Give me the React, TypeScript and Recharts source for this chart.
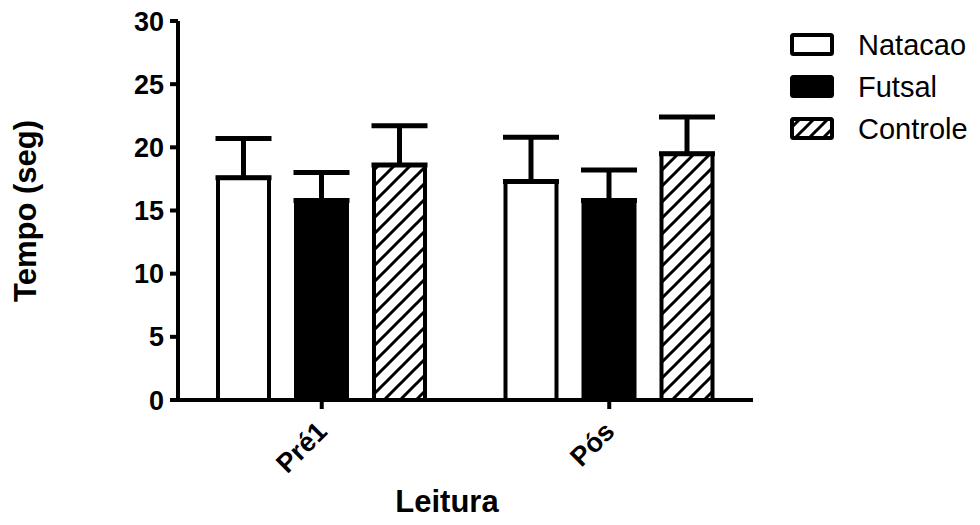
import React from 'react';
import { BarChart, Bar, XAxis, YAxis, ErrorBar } from 'recharts';

const categories = ['Pré1', 'Pós'];
const natacao = [17.6, 17.3];
const natacaoErr = [3.1, 3.5];
const futsal = [15.8, 15.8];
const futsalErr = [2.2, 2.4];
const controle = [18.6, 19.5];
const controleErr = [3.1, 2.9];
const yTicks = [0, 5, 10, 15, 20, 25, 30];
const seriesNames = ['Natacao', 'Futsal', 'Controle'];

const data = categories.map((c, i) => ({
  cat: c,
  nat: natacao[i],
  natErr: [0, natacaoErr[i]],
  fut: futsal[i],
  futErr: [0, futsalErr[i]],
  con: controle[i],
  conErr: [0, controleErr[i]],
}));

const FONT = '"Liberation Sans", Arial, sans-serif';

const XTick = (props: any) => {
  const { x, y, payload } = props;
  const ax = x + 7;
  const ay = y + 22;
  return (
    <text
      x={ax}
      y={ay}
      transform={`rotate(-45, ${ax}, ${ay})`}
      textAnchor="end"
      fontFamily={FONT}
      fontWeight="bold"
      fontSize={27}
      fill="#000"
    >
      {payload.value}
    </text>
  );
};

const LegendIcon = ({ kind }: { kind: number }) => (
  <svg width={48} height={26} style={{ display: 'block' }}>
    <defs>
      <pattern id="hatchLeg" patternUnits="userSpaceOnUse" width="14" height="14">
        <path d="M0,14 L14,0 M-4,4 L4,-4 M10,18 L18,10" stroke="#000" strokeWidth="3" />
      </pattern>
    </defs>
    <rect
      x={3}
      y={3}
      width={40}
      height={19}
      rx={1.5}
      fill={kind === 0 ? '#fff' : kind === 1 ? '#000' : 'url(#hatchLeg)'}
      stroke="#000"
      strokeWidth={4}
    />
  </svg>
);

const LegendBlock = () => (
  <div
    style={{
      position: 'absolute',
      left: 789,
      top: 24,
      fontFamily: FONT,
      fontSize: 29,
      color: '#000',
      lineHeight: 1,
    }}
  >
    {seriesNames.map((n, i) => (
      <div key={n} style={{ display: 'flex', alignItems: 'center', height: 42 }}>
        <LegendIcon kind={i} />
        <span style={{ marginLeft: 21 }}>{n}</span>
      </div>
    ))}
  </div>
);

export default function App() {
  return (
    <div style={{ position: 'fixed', left: 0, top: 0, width: 980, height: 525, background: '#fff' }}>
      <BarChart
        width={980}
        height={525}
        data={data}
        margin={{ top: 21, right: 227, bottom: 0, left: 0 }}
        barSize={51}
        barGap={27}
      >
        <defs>
          <pattern id="hatch" patternUnits="userSpaceOnUse" width="16" height="16">
            <path d="M0,16 L16,0 M-4,4 L4,-4 M12,20 L20,12" stroke="#000" strokeWidth="3" />
          </pattern>
        </defs>
        <XAxis
          dataKey="cat"
          height={125}
          axisLine={{ stroke: '#000', strokeWidth: 4 }}
          tickLine={{ stroke: '#000', strokeWidth: 4 }}
          tickSize={9}
          tick={<XTick />}
          interval={0}
          label={{
            content: () => (
              <text x={447} y={512} textAnchor="middle" fontFamily={FONT} fontWeight="bold" fontSize={31} fill="#000">
                Leitura
              </text>
            ),
          }}
        />
        <YAxis
          width={178}
          domain={[0, 30]}
          ticks={yTicks}
          interval={0}
          axisLine={{ stroke: '#000', strokeWidth: 4 }}
          tickLine={{ stroke: '#000', strokeWidth: 4 }}
          tickSize={8}
          tickMargin={6}
          tick={{ fill: '#000', fontFamily: FONT, fontWeight: 'bold', fontSize: 27 }}
          label={{
            content: () => (
              <text
                x={36}
                y={211}
                transform="rotate(-90, 36, 211)"
                textAnchor="middle"
                fontFamily={FONT}
                fontWeight="bold"
                fontSize={31}
                fill="#000"
              >
                Tempo (seg)
              </text>
            ),
          }}
        />
        <Bar dataKey="nat" name="Natacao" fill="#fff" stroke="#000" strokeWidth={4} isAnimationActive={false}>
          <ErrorBar dataKey="natErr" direction="y" width={28} stroke="#000" strokeWidth={5} isAnimationActive={false} />
        </Bar>
        <Bar dataKey="fut" name="Futsal" fill="#000" stroke="#000" strokeWidth={4} isAnimationActive={false}>
          <ErrorBar dataKey="futErr" direction="y" width={28} stroke="#000" strokeWidth={5} isAnimationActive={false} />
        </Bar>
        <Bar dataKey="con" name="Controle" fill="url(#hatch)" stroke="#000" strokeWidth={4} isAnimationActive={false}>
          <ErrorBar dataKey="conErr" direction="y" width={28} stroke="#000" strokeWidth={5} isAnimationActive={false} />
        </Bar>
      </BarChart>
      <LegendBlock />
    </div>
  );
}
